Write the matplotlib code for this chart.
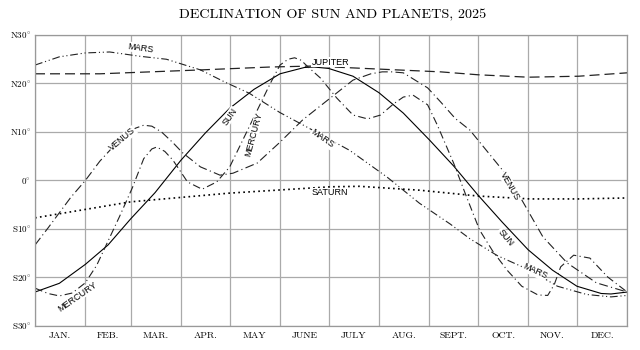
import numpy as np
import matplotlib.pyplot as plt

plt.rcParams['mathtext.fontset'] = 'cm'

# day of year (0 = Jan 1) and declination in degrees
sun_d = [0, 15, 31, 45, 59, 74, 90, 105, 120, 135, 151, 166, 172, 181, 196, 212, 227, 243, 258, 273, 288, 304, 319, 334, 349, 355, 365]
sun_v = [-23.0, -21.2, -17.3, -13.3, -7.9, -2.5, 4.2, 9.8, 14.9, 18.8, 22.0, 23.3, 23.4, 23.1, 21.5, 18.1, 13.9, 8.4, 3.0, -3.0, -8.6, -14.3, -18.5, -21.8, -23.3, -23.4, -23.0]

mercury_d = [0, 8, 15, 23, 31, 38, 45, 52, 60, 67, 72, 75, 80, 85, 94, 103, 112, 120, 128, 137, 145, 151, 156, 160, 164, 168, 176, 186, 196, 205, 213, 221, 227, 233, 242, 248, 258, 266, 274, 282, 291, 300, 310, 316, 320, 324, 332, 342, 353, 365]
mercury_v = [-22.2, -23.3, -23.8, -23.2, -21.1, -17.5, -12.5, -7.5, -1.5, 4.5, 6.5, 6.9, 6.0, 4.2, -0.3, -1.8, -0.3, 2.8, 8.3, 14.5, 20.0, 23.8, 25.0, 25.3, 24.8, 23.5, 21.1, 17.0, 13.5, 12.7, 13.5, 15.8, 17.2, 17.6, 15.6, 11.4, 3.6, -3.4, -10.2, -14.5, -18.5, -21.8, -23.6, -23.7, -21.5, -17.8, -15.4, -16.0, -19.9, -23.0]

venus_d = [0, 8, 14, 22, 31, 40, 48, 56, 62, 67, 72, 78, 85, 91, 102, 114, 122, 137, 151, 165, 182, 196, 207, 214, 220, 227, 242, 250, 259, 268, 288, 299, 313, 328, 346, 365]
venus_v = [-13.3, -9.8, -7.1, -3.5, 0.0, 4.0, 6.9, 9.5, 10.8, 11.4, 11.2, 10.0, 7.8, 5.7, 2.8, 1.1, 1.5, 3.6, 7.9, 12.5, 17.0, 20.7, 22.0, 22.4, 22.4, 22.2, 19.1, 16.2, 12.8, 10.4, 2.2, -3.4, -11.6, -17.0, -21.1, -23.0]

mars_d = [0, 15, 31, 46, 65, 81, 102, 117, 132, 151, 171, 194, 217, 237, 256, 268, 285, 305, 322, 340, 355, 365]
mars_v = [23.8, 25.5, 26.3, 26.5, 25.6, 25.0, 22.8, 20.3, 18.0, 14.0, 10.4, 6.2, 0.7, -4.7, -9.0, -12.0, -15.5, -18.5, -21.8, -23.5, -24.0, -23.7]

jupiter_d = [0, 40, 102, 145, 171, 210, 250, 273, 304, 335, 365]
jupiter_v = [22.0, 22.0, 22.8, 23.4, 23.6, 23.0, 22.4, 21.8, 21.3, 21.5, 22.2]

saturn_d = [0, 59, 120, 182, 200, 237, 273, 305, 335, 365]
saturn_v = [-7.7, -4.4, -2.6, -1.3, -1.2, -2.0, -3.2, -3.8, -3.8, -3.6]

month_starts = [0, 31, 59, 90, 120, 151, 181, 212, 243, 273, 304, 334, 365]
months = ["JAN.", "FEB.", "MAR.", "APR.", "MAY", "JUNE", "JULY", "AUG.", "SEPT.", "OCT.", "NOV.", "DEC."]
y_ticks = [30, 20, 10, 0, -10, -20, -30]
y_labels = ["N30$^{\\circ}$", "N20$^{\\circ}$", "N10$^{\\circ}$", "0$^{\\circ}$",
            "S10$^{\\circ}$", "S20$^{\\circ}$", "S30$^{\\circ}$"]

serif = ["cmr10", "DejaVu Serif"]
sans = "Liberation Sans"

fig = plt.figure(figsize=(6.4, 3.5), dpi=100)
ax = fig.add_axes([0.0547, 0.0686, 0.9253, 0.8314])

ax.plot(sun_d, sun_v, color="black", lw=0.8)
ax.plot(mercury_d, mercury_v, color="#222222", lw=0.8, ls=(0, (7, 3, 1, 3)))
ax.plot(venus_d, venus_v, color="#222222", lw=0.8, ls=(0, (8, 3, 1, 3)))
ax.plot(mars_d, mars_v, color="#222222", lw=0.8, ls=(0, (7, 2.5, 1, 2.5, 1, 2.5)))
ax.plot(jupiter_d, jupiter_v, color="#222222", lw=0.9, ls=(0, (8, 4)))
ax.plot(saturn_d, saturn_v, color="black", lw=1.2, ls=(0, (1, 2)))

ax.set_xlim(0, 365)
ax.set_ylim(-30, 30)
ax.set_xticks(month_starts)
ax.set_yticks(y_ticks)
ax.set_yticklabels(y_labels, family=serif, fontsize=6.5)
ax.set_xticklabels([])
ax.tick_params(length=0, pad=3)
ax.grid(color="#aaaaaa", lw=0.9)
for s in ax.spines.values():
    s.set_color("#999999")
    s.set_linewidth(0.9)

for i, m in enumerate(months):
    mid = (month_starts[i] + month_starts[i + 1]) / 2
    ax.text(mid, -31.2, m, ha="center", va="top", family=serif, fontsize=7, fontweight="bold")

fig.text(0.52, 0.955, "DECLINATION OF SUN AND PLANETS, 2025", ha="center", va="center",
         family=serif, fontsize=10.2)

labels = [
    ("MARS", 65, 27.3, -8),
    ("JUPITER", 182, 24.4, 0),
    ("VENUS", 54, 8.5, 40),
    ("SUN", 120, 13.2, 55),
    ("MERCURY", 135, 9.5, 75),
    ("MARS", 177, 8.6, -35),
    ("SATURN", 182, -2.5, 0),
    ("VENUS", 293, -1.2, -60),
    ("SUN", 290, -11.7, -50),
    ("MARS", 308, -18.8, -25),
    ("MERCURY", 26, -24.0, 35),
]
for t, d, v, r in labels:
    ax.text(d, v, t, ha="center", va="center", rotation=r, family=sans, fontsize=6.5,
            bbox=dict(facecolor="white", edgecolor="none", pad=0.3))

fig.savefig("out.png", dpi=100)
